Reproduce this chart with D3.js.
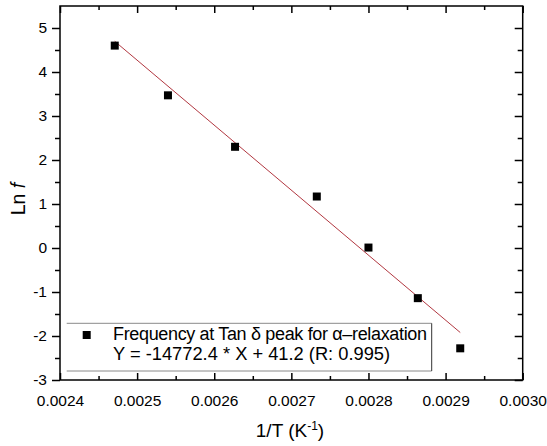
<!DOCTYPE html>
<html>
<head>
<meta charset="utf-8">
<script src="https://cdn.jsdelivr.net/npm/d3@7"></script>
<style>
  html, body { margin: 0; padding: 0; background: #fff; }
  svg { display: block; font-family: "Liberation Sans", Arial, sans-serif; }
</style>
</head>
<body>
<svg id="chart" width="547" height="446"></svg>
<script>
// Arrhenius data: inverse peak temperature vs. ln of frequency
const invT = [0.002471, 0.002540, 0.002627, 0.002733, 0.002800, 0.002864, 0.002919];
const lnF  = [4.60, 3.47, 2.30, 1.17, 0.01, -1.14, -2.28];

// Linear fit reported in the legend
const fitSlope = -14772.4;
const fitIntercept = 41.2;
const fitR = 0.995;

const xTicks = [0.0024, 0.0025, 0.0026, 0.0027, 0.0028, 0.0029, 0.0030];
const xMinorTicks = [0.00245, 0.00255, 0.00265, 0.00275, 0.00285, 0.00295];
const yTicks = [-3, -2, -1, 0, 1, 2, 3, 4, 5];
const yMinorTicks = [-2.5, -1.5, -0.5, 0.5, 1.5, 2.5, 3.5, 4.5];

const seriesName = "Frequency at Tan \u03B4 peak for \u03B1\u2013relaxation";

const svg = d3.select("#chart");
const pL = 60, pR = 522.7, pT = 6, pB = 380;

const x = d3.scaleLinear().domain([0.0024, 0.0030]).range([pL, pR]);
const y = d3.scaleLinear().domain([-3, 5.5]).range([pB, pT]);

svg.append("rect").attr("width", 547).attr("height", 446).attr("fill", "#fff");

const fmtX = d3.format(".4f");
const fmtY = d => d3.format("d")(d).replace("\u2212", "-");

function styleAxis(g) {
  g.select(".domain").remove();
  g.selectAll("line").attr("stroke", "#000").attr("stroke-width", 1.5);
  g.selectAll("text").attr("fill", "#000").attr("font-size", 15.5)
    .attr("font-family", "Liberation Sans, Arial, sans-serif");
}

// bottom axis: ticks pointing into the plot
svg.append("g").attr("transform", `translate(0,${pB})`)
  .call(d3.axisBottom(x).tickValues(xTicks).tickSize(-7).tickPadding(15).tickFormat(fmtX))
  .call(styleAxis);
svg.append("g").attr("transform", `translate(0,${pB})`)
  .call(d3.axisBottom(x).tickValues(xMinorTicks).tickSize(-4).tickFormat(""))
  .call(styleAxis);

// top axis: mirrored ticks, no labels
svg.append("g").attr("transform", `translate(0,${pT})`)
  .call(d3.axisTop(x).tickValues(xTicks).tickSize(-7).tickFormat(""))
  .call(styleAxis);
svg.append("g").attr("transform", `translate(0,${pT})`)
  .call(d3.axisTop(x).tickValues(xMinorTicks).tickSize(-4).tickFormat(""))
  .call(styleAxis);

// left axis: outward ticks with labels
svg.append("g").attr("transform", `translate(${pL},0)`)
  .call(d3.axisLeft(y).tickValues(yTicks).tickSize(8).tickPadding(5).tickFormat(fmtY))
  .call(styleAxis);
svg.append("g").attr("transform", `translate(${pL},0)`)
  .call(d3.axisLeft(y).tickValues(yMinorTicks).tickSize(5).tickFormat(""))
  .call(styleAxis);

// right axis: ticks pointing inward
svg.append("g").attr("transform", `translate(${pR},0)`)
  .call(d3.axisRight(y).tickValues(yTicks).tickSize(-8).tickFormat(""))
  .call(styleAxis);
svg.append("g").attr("transform", `translate(${pR},0)`)
  .call(d3.axisRight(y).tickValues(yMinorTicks).tickSize(-5).tickFormat(""))
  .call(styleAxis);

// plot frame
svg.append("rect")
  .attr("x", pL).attr("y", pT)
  .attr("width", pR - pL).attr("height", pB - pT)
  .attr("fill", "none").attr("stroke", "#000").attr("stroke-width", 1.5);

// fit line over the data range
const xExt = d3.extent(invT);
const fitLine = d3.line().x(d => x(d)).y(d => y(fitSlope * d + fitIntercept));
svg.append("path")
  .datum(xExt)
  .attr("d", fitLine)
  .attr("fill", "none")
  .attr("stroke", "#a8202a")
  .attr("stroke-width", 0.9);

// data markers
const sq = 8;
svg.append("g").selectAll("rect")
  .data(invT.map((v, i) => [v, lnF[i]]))
  .join("rect")
  .attr("x", d => x(d[0]) - sq / 2)
  .attr("y", d => y(d[1]) - sq / 2)
  .attr("width", sq).attr("height", sq)
  .attr("fill", "#000");

// legend
const lg = svg.append("g");
const lgL = 66.7, lgR = 431.7, lgT = 323.3, lgB = 371;
lg.append("rect").attr("x", lgL).attr("y", lgT).attr("width", lgR - lgL).attr("height", lgB - lgT)
  .attr("fill", "#fff").attr("stroke", "none");
lg.append("line").attr("x1", lgL).attr("x2", lgR).attr("y1", lgT).attr("y2", lgT)
  .attr("stroke", "#8a8a8a").attr("stroke-width", 1);
lg.append("line").attr("x1", lgL).attr("x2", lgR).attr("y1", lgB).attr("y2", lgB)
  .attr("stroke", "#8a8a8a").attr("stroke-width", 1);
lg.append("line").attr("x1", lgR).attr("x2", lgR).attr("y1", lgT).attr("y2", lgB)
  .attr("stroke", "#333").attr("stroke-width", 1);
lg.append("rect").attr("x", 86.7 - 4).attr("y", 335 - 4).attr("width", 8).attr("height", 8)
  .attr("fill", "#000");
lg.append("text").attr("x", 113).attr("y", 339.5)
  .attr("font-size", 18).attr("fill", "#000")
  .attr("textLength", 314).attr("lengthAdjust", "spacing")
  .text(seriesName);
lg.append("text").attr("x", 113).attr("y", 359.5)
  .attr("font-size", 18.3).attr("fill", "#000")
  .text(`Y = ${fitSlope} * X + ${fitIntercept} (R: ${fitR})`);

// axis titles
const xt = svg.append("text")
  .attr("x", 290).attr("y", 437)
  .attr("text-anchor", "middle").attr("font-size", 19).attr("fill", "#000");
xt.append("tspan").text("1/T (K");
xt.append("tspan").attr("dy", -7).attr("font-size", 12).text("-1");
xt.append("tspan").attr("dy", 7).text(")");

const yt = svg.append("text")
  .attr("transform", `translate(25,199) rotate(-90)`)
  .attr("text-anchor", "middle").attr("font-size", 19.5).attr("fill", "#000");
yt.append("tspan").text("Ln ");
yt.append("tspan").attr("font-style", "italic").text("f");
</script>
</body>
</html>
